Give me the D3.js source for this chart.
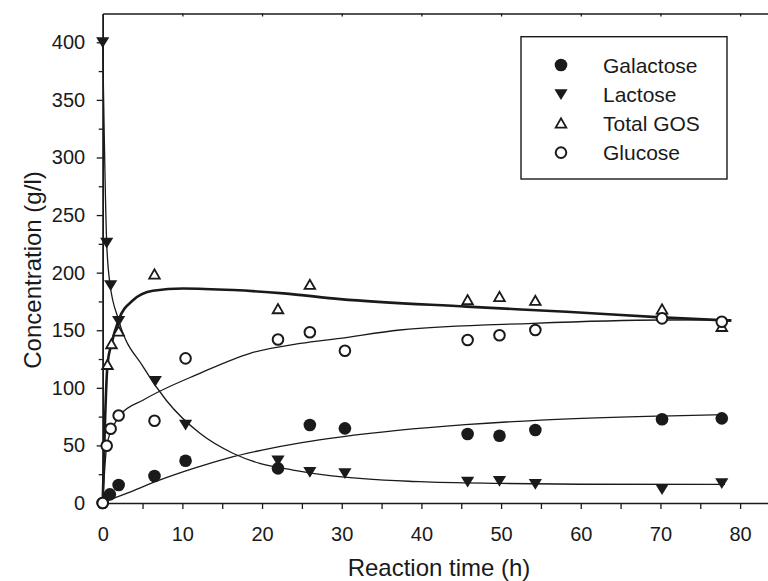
<!DOCTYPE html>
<html>
<head>
<meta charset="utf-8">
<script src="https://cdn.jsdelivr.net/npm/d3@7"></script>
<style>
  body { margin: 0; background: #fff; }
  text { font-family: "Liberation Sans", Arial, sans-serif; fill: #1a1a1a; }
</style>
</head>
<body>
<svg id="chart" width="768" height="581"></svg>
<script>
// measured points (time in h, concentration in g/l)
const galTime = [0, 0.9, 2, 6.5, 10.4, 22, 26, 30.4, 45.8, 49.8, 54.3, 70.2, 77.7];
const galVal  = [0, 7.5, 15.6, 23.4, 36.7, 30.1, 67.7, 64.8, 59.9, 58.4, 63.4, 72.7, 73.5];
const lacTime = [0, 0.5, 1, 2, 6.6, 10.4, 22, 26, 30.4, 45.8, 49.8, 54.3, 70.2, 77.7];
const lacVal  = [400, 226, 189, 158, 106, 68, 37, 27, 25.8, 18.5, 19.1, 16.5, 11.9, 17.1];
const gosTime = [0.6, 1.1, 2, 6.5, 22, 26, 45.8, 49.8, 54.3, 70.2, 77.7];
const gosVal  = [120, 138, 149, 198.5, 168.4, 189.5, 176.2, 179, 175.6, 168.1, 153];
const gluTime = [0, 0.5, 1, 2, 6.5, 10.4, 22, 26, 30.4, 45.8, 49.8, 54.3, 70.2, 77.7];
const gluVal  = [0, 49.7, 64.5, 76, 71.4, 125.6, 142, 148.2, 132.2, 141.5, 145.6, 150.2, 160.3, 157.4];

// fitted curves
const galFitT = [0, 3, 7.2, 11.4, 15.6, 20, 25, 30, 37, 45.5, 55, 70, 78];
const galFitV = [0.5, 8.4, 20, 30, 38.8, 46, 52.5, 57.5, 63, 68, 72, 75.5, 76.7];
const lacFitT = [0, 0.5, 0.9, 2, 5.1, 8, 12.2, 16.4, 19.7, 23.9, 28.5, 39.8, 50, 60, 78.1];
const lacFitV = [400, 226, 191, 159, 118, 89, 60.5, 43, 34.4, 28.6, 23.7, 18.5, 17, 16.3, 16.2];
const gosFitT = [0, 0.6, 1.1, 2, 3.8, 6.3, 10.1, 16.4, 22.7, 29.8, 45.7, 58.2, 70.1, 78.9];
const gosFitV = [0, 120, 138, 159, 176, 184.3, 186.3, 184.9, 182, 177, 170.5, 166, 161.2, 158.3];
const gluFitT = [0, 0.5, 1.3, 2.2, 5.1, 12.2, 18.5, 24.8, 29.8, 37.3, 54, 70.1, 78.9];
const gluFitV = [0, 49, 66, 76.4, 89.4, 112.6, 130, 138.5, 143, 150.2, 156, 158.9, 159];

const yTicks = [0, 50, 100, 150, 200, 250, 300, 350, 400];
const yMinor = [25, 75, 125, 175, 225, 275, 325, 375];
const xTicks = [0, 5, 10, 15, 20, 25, 30, 35, 40, 45, 50, 55, 60, 65, 70, 75, 80];
const xTopTicks = [10, 20, 30, 40, 50, 60, 70, 80];
const legendNames = ['Galactose', 'Lactose', 'Total GOS', 'Glucose'];
const legendKinds = ['gal', 'lac', 'gos', 'glu'];

const ink = '#1a1a1a';
const svg = d3.select('#chart');

const x = d3.scaleLinear().domain([0, 83.5]).range([102.7, 768]);
const y = d3.scaleLinear().domain([0, 425]).range([503, 13.5]);

// axes
function styleAxis(g) {
  g.attr('font-family', '"Liberation Sans", Arial, sans-serif').attr('font-size', 20);
  g.select('.domain').attr('stroke', ink).attr('stroke-width', 1.5);
  g.selectAll('.tick line').attr('stroke', ink).attr('stroke-width', 1.3);
  g.selectAll('.tick text').attr('fill', ink);
}

svg.append('g')
  .attr('transform', 'translate(102.7,0)')
  .call(d3.axisLeft(y).tickValues(yMinor).tickSize(4).tickSizeOuter(0).tickFormat(''))
  .call(styleAxis);

svg.append('g')
  .attr('transform', 'translate(102.7,0)')
  .call(d3.axisLeft(y).tickValues(yTicks).tickSize(6).tickSizeOuter(0).tickPadding(11.5))
  .call(styleAxis);

svg.append('g')
  .attr('transform', 'translate(0,503)')
  .call(d3.axisBottom(x).tickValues(xTicks).tickSize(6).tickSizeOuter(0).tickPadding(18)
    .tickFormat(d => d % 10 === 0 ? d : ''))
  .call(styleAxis);

svg.append('g')
  .attr('transform', 'translate(0,13.5)')
  .call(d3.axisBottom(x).tickValues(xTopTicks).tickSize(3).tickSizeOuter(0).tickFormat(''))
  .call(styleAxis);

svg.append('text')
  .attr('x', 439)
  .attr('y', 576)
  .attr('text-anchor', 'middle')
  .attr('font-size', 24)
  .text('Reaction time (h)');

svg.append('text')
  .attr('transform', 'translate(41,270) rotate(-90)')
  .attr('text-anchor', 'middle')
  .attr('font-size', 24)
  .text('Concentration (g/l)');

// fitted lines
const line = d3.line()
  .x(d => x(d[0]))
  .y(d => y(d[1]))
  .curve(d3.curveMonotoneX);

const fits = [
  {t: galFitT, v: galFitV, w: 1.3},
  {t: lacFitT, v: lacFitV, w: 1.3},
  {t: gluFitT, v: gluFitV, w: 1.3},
  {t: gosFitT, v: gosFitV, w: 2.6}
];

svg.selectAll('path.fit')
  .data(fits)
  .join('path')
  .attr('class', 'fit')
  .attr('d', f => line(f.t.map((t, i) => [t, f.v[i]])))
  .attr('fill', 'none')
  .attr('stroke', ink)
  .attr('stroke-width', f => f.w);

// markers
function marker(g, kind) {
  if (kind === 'gal') {
    g.append('circle').attr('r', 6.3).attr('fill', ink);
  } else if (kind === 'lac') {
    g.append('path').attr('d', 'M-6.6,-5 L6.6,-5 L0,5.8 Z').attr('fill', ink);
  } else if (kind === 'gos') {
    g.append('path').attr('d', 'M-5.3,4.2 L5.3,4.2 L0,-5 Z')
      .attr('fill', '#fff').attr('stroke', ink).attr('stroke-width', 1.8).attr('stroke-linejoin', 'miter');
  } else {
    g.append('circle').attr('r', 5.3).attr('fill', '#fff').attr('stroke', ink).attr('stroke-width', 2);
  }
}

const series = [
  {kind: 'gal', t: galTime, v: galVal},
  {kind: 'lac', t: lacTime, v: lacVal},
  {kind: 'gos', t: gosTime, v: gosVal},
  {kind: 'glu', t: gluTime, v: gluVal}
];

series.forEach(s => {
  svg.append('g').selectAll('g')
    .data(s.t.map((t, i) => [t, s.v[i]]))
    .join('g')
    .attr('transform', d => `translate(${x(d[0])},${y(d[1])})`)
    .each(function() { marker(d3.select(this), s.kind); });
});

// legend
const legend = svg.append('g');
legend.append('rect')
  .attr('x', 521).attr('y', 36.7)
  .attr('width', 206).attr('height', 142.3)
  .attr('fill', '#fff')
  .attr('stroke', ink)
  .attr('stroke-width', 1.4);

legendNames.forEach((name, i) => {
  const row = legend.append('g').attr('transform', `translate(561,${65 + i * 29.2})`);
  marker(row, legendKinds[i]);
  legend.append('text')
    .attr('x', 603)
    .attr('y', 72.7 + i * 29)
    .attr('font-size', 21)
    .text(name);
});
</script>
</body>
</html>
